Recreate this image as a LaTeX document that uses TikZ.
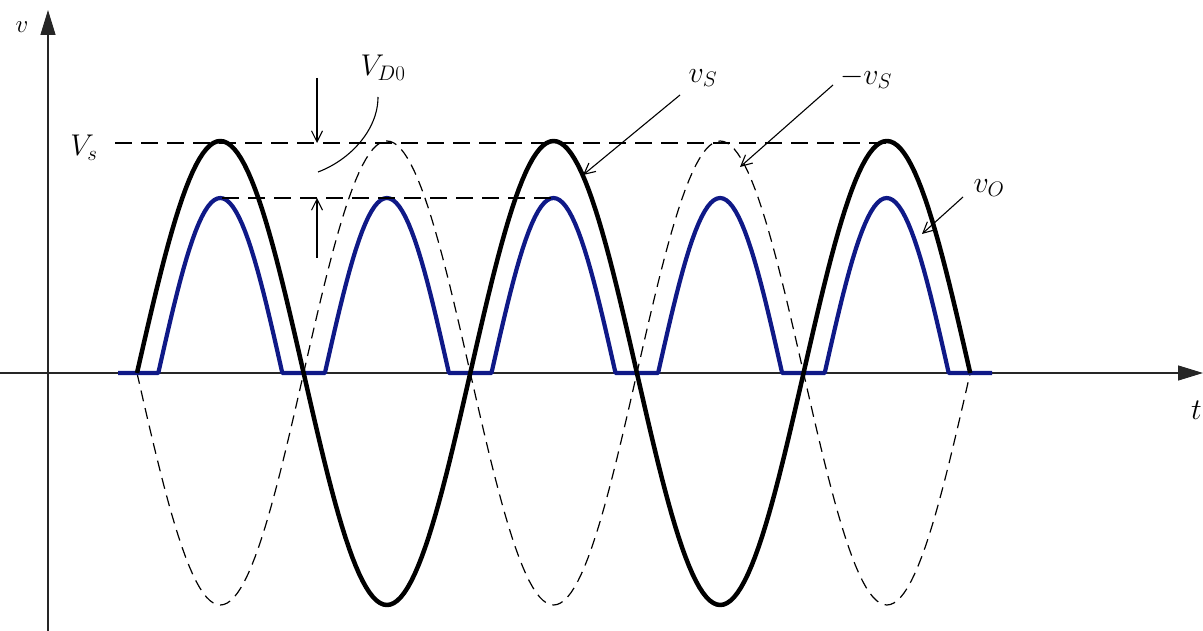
\RequirePackage{fix-cm}
\documentclass[tikz,border=0pt]{standalone}
\usetikzlibrary{arrows.meta}
\definecolor{blueO}{RGB}{15,25,135}
\begin{document}
\begin{tikzpicture}[x=1pt,y=-1pt,
  axis/.style={line width=1.3pt, draw=black!85},
  axtip/.style={-{Triangle[length=25pt,width=15pt]}},
  vscurve/.style={line width=4.5pt, line join=round},
  negcurve/.style={line width=1.2pt, dash pattern=on 11pt off 7pt},
  level/.style={line width=1.3pt, dash pattern=on 17pt off 9pt},
  vocurve/.style={line width=4.2pt, draw=blueO, line join=round},
  leader/.style={line width=1.1pt, -{Straight Barb[length=11pt,width=11pt]}},
  lbl/.style={font=\fontsize{30}{34}\selectfont, inner sep=0pt},
]
\useasboundingbox (0,0) rectangle (1203,631);

% axes
\coordinate (yb) at (48,631);
\coordinate (yt) at (48,10);
\coordinate (xl) at (0,373);
\coordinate (xr) at (1203,373);
\draw[axis,axtip] (yb) -- (yt);
\draw[axis,axtip] (xl) -- (xr);

% -v_S (dashed)
\draw[negcurve] plot[domain=0:833.2, samples=241] ({137+\x}, {373+232*sin(\x/166.64*180)});

% v_O (blue)
\draw[vocurve] (118,373)
  \foreach \c in {220.3,386.9,553.5,720.1,886.7} {
    -- plot[domain=-62:62, samples=41] ({\c+\x}, {373-175*cos(\x/62*90)})
  } -- (992,373);

% v_S (black)
\draw[vscurve] plot[domain=0:833.2, samples=241] ({137+\x}, {373-232*sin(\x/166.64*180)});

% level lines
\coordinate (vs0) at (115,143);
\coordinate (vs1) at (888,143);
\draw[level] (vs0) -- (vs1);
\coordinate (vd0) at (222,198);
\coordinate (vd1) at (553,198);
\draw[level] (vd0) -- (vd1);

% V_D0 dimension arrows
\coordinate (a1s) at (317,78);
\coordinate (a1e) at (317,143);
\coordinate (a2s) at (317,258);
\coordinate (a2e) at (317,198);
\draw[leader] (a1s) -- (a1e);
\draw[leader] (a2s) -- (a2e);

% labels
\node[lbl,font=\fontsize{25}{28}\selectfont] (lv) at (22,27) {$v$};
\node[lbl,anchor=east] (lt) at (1202,410) {$t$};
\node[lbl] (lVs) at (84,148) {$V_s$};
\node[lbl] (lVD) at (383,68) {$V_{D0}$};
\node[lbl] (lvS) at (703,78) {$v_S$};
\node[lbl] (lnvS) at (866,78) {$-v_S$};
\node[lbl] (lvO) at (989,188) {$v_O$};

% leaders
\coordinate (c1s) at (378,97);
\coordinate (c1e) at (318,172);
\draw[line width=1.1pt] (c1s) .. controls (378,130) and (350,160) .. (c1e);
\coordinate (p1s) at (680,95);
\coordinate (p1e) at (583,175);
\draw[leader] (p1s) -- (p1e);
\coordinate (p2s) at (833,85);
\coordinate (p2e) at (740,167);
\draw[leader] (p2s) -- (p2e);
\coordinate (p3s) at (963,197);
\coordinate (p3e) at (922,234);
\draw[leader] (p3s) -- (p3e);
\end{tikzpicture}
\end{document}
